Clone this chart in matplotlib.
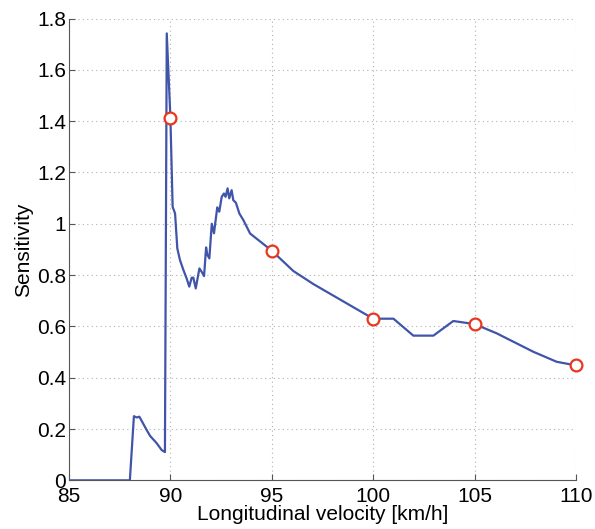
import matplotlib
matplotlib.use("Agg")
import matplotlib.pyplot as plt

# =============================================================================
# DATOS
# =============================================================================

velocity = [85.0, 88.0, 88.2, 88.34, 88.47, 88.83, 89.0, 89.32, 89.57, 89.73,
            89.78, 89.82, 90.0, 90.11, 90.23, 90.34, 90.47, 90.64, 90.8, 90.93,
            91.05, 91.13, 91.25, 91.43, 91.54, 91.66, 91.76, 91.82, 91.92, 92.04,
            92.15, 92.31, 92.41, 92.53, 92.64, 92.72, 92.82, 92.9, 93.02, 93.1,
            93.23, 93.4, 93.6, 93.93, 95.0, 96.06, 97.05, 100.0, 101.0, 101.98,
            102.97, 103.95, 105.0, 106.09, 107.9, 109.05, 110.0]
sensitivity = [0.0, 0.0, 0.25, 0.245, 0.248, 0.196, 0.173, 0.145, 0.118, 0.11,
               1.0, 1.742, 1.414, 1.066, 1.04, 0.904, 0.859, 0.82, 0.787, 0.755,
               0.79, 0.79, 0.748, 0.826, 0.813, 0.796, 0.908, 0.88, 0.865, 1.0,
               0.963, 1.064, 1.047, 1.105, 1.118, 1.105, 1.138, 1.099, 1.131, 1.092,
               1.082, 1.04, 1.014, 0.962, 0.895, 0.816, 0.765, 0.63, 0.63, 0.564,
               0.564, 0.621, 0.609, 0.573, 0.501, 0.462, 0.448]

marker_velocity = [90, 95, 100, 105, 110]
marker_sensitivity = [1.414, 0.895, 0.630, 0.609, 0.448]

x_ticks = [85, 90, 95, 100, 105, 110]
y_ticks = [0, 0.2, 0.4, 0.6, 0.8, 1, 1.2, 1.4, 1.6, 1.8]
y_tick_labels = ["0", "0.2", "0.4", "0.6", "0.8", "1", "1.2", "1.4", "1.6", "1.8"]

# =============================================================================
# FIGURA
# =============================================================================

plt.rcParams['font.family'] = ['Liberation Sans', 'DejaVu Sans']

fig = plt.figure(figsize=(5.95, 5.29), dpi=100)
ax = fig.add_axes([0.116, 0.092, 0.852, 0.873])

ax.plot(velocity, sensitivity, color='#4055aa', linewidth=1.6, zorder=3)
ax.plot(marker_velocity, marker_sensitivity, linestyle='none', marker='o',
        markersize=8.5, markerfacecolor='white', markeredgecolor='#e8361f',
        markeredgewidth=1.6, zorder=4, clip_on=False)

ax.set_xlim(85, 110)
ax.set_ylim(0, 1.8)
ax.set_xticks(x_ticks)
ax.set_yticks(y_ticks)
ax.set_yticklabels(y_tick_labels)

ax.grid(True, linestyle=(0, (1, 3)), color='#b0b0b0', linewidth=0.8)
ax.set_axisbelow(True)

ax.spines['top'].set_visible(False)
ax.spines['right'].set_visible(False)
ax.spines['left'].set_color('#555555')
ax.spines['bottom'].set_color('#555555')
ax.tick_params(direction='in', length=4, labelsize=15, colors='#555555',
               labelcolor='black')
ax.tick_params(axis='x', pad=5)
ax.tick_params(axis='y', pad=2)

ax.set_xlabel('Longitudinal velocity [km/h]', fontsize=15, labelpad=-1)
ax.set_ylabel('Sensitivity', fontsize=15, labelpad=3)

fig.savefig('out.png', dpi=100)
